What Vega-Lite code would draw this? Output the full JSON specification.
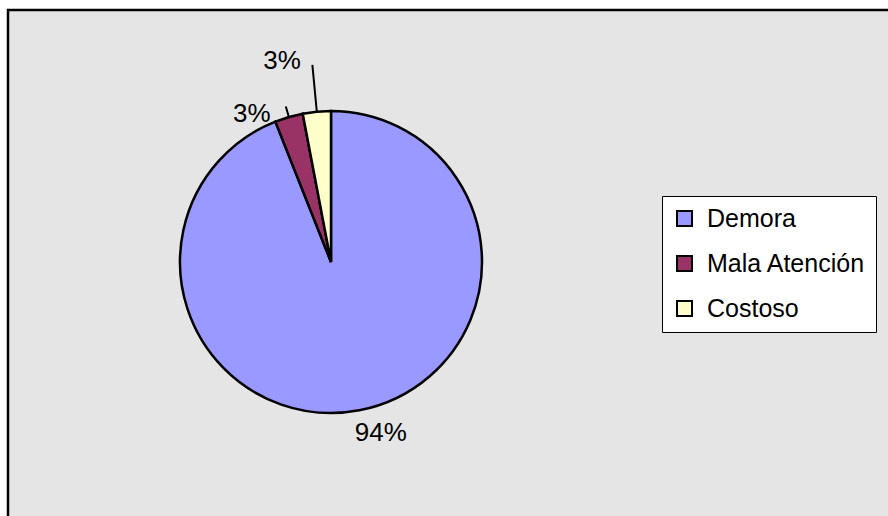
{
  "$schema": "https://vega.github.io/schema/vega-lite/v6.json",
  "width": 890,
  "height": 510,
  "autosize": {"type": "none"},
  "padding": {"left": 8, "top": 10, "right": 0, "bottom": 0},
  "background": "white",
  "config": {
    "view": {"stroke": "black", "strokeWidth": 2.5, "fill": "#e5e5e5"},
    "font": "Liberation Sans"
  },
  "data": {
    "values": [
      {"cat": "Demora", "value": 0.94, "orden": 1},
      {"cat": "Mala Atención", "value": 0.03, "orden": 2},
      {"cat": "Costoso", "value": 0.03, "orden": 3}
    ]
  },
  "encoding": {
    "theta": {"field": "value", "type": "quantitative", "stack": true},
    "order": {"field": "orden", "type": "quantitative"},
    "x": {"value": 323},
    "y": {"value": 252}
  },
  "layer": [
    {
      "mark": {"type": "arc", "outerRadius": 151, "stroke": "black", "strokeWidth": 2.5},
      "encoding": {
        "color": {
          "field": "cat",
          "type": "nominal",
          "scale": {"domain": ["Demora", "Mala Atención", "Costoso"], "range": ["#9999FF", "#993366", "#FFFFCC"]},
          "legend": {
            "title": null,
            "orient": "none",
            "legendX": 654,
            "legendY": 186,
            "symbolType": "square",
            "symbolSize": 225,
            "symbolStrokeColor": "black",
            "symbolStrokeWidth": 2,
            "labelFont": "Liberation Sans",
            "labelFontSize": 25,
            "labelColor": "black",
            "labelOffset": 10,
            "rowPadding": 19,
            "padding": 10,
            "strokeColor": "black",
            "fillColor": "white"
          }
        }
      }
    },
    {
      "mark": {"type": "arc", "radius": 151, "radius2": 198, "padAngle": 1.5, "fill": null, "strokeWidth": 2},
      "encoding": {
        "stroke": {"condition": {"test": "datum.cat === 'Costoso'", "value": "black"}, "value": null}
      }
    },
    {
      "mark": {"type": "arc", "radius": 151, "radius2": 162, "padAngle": 1.5, "fill": null, "strokeWidth": 2},
      "encoding": {
        "stroke": {"condition": {"test": "datum.cat === 'Mala Atención'", "value": "black"}, "value": null}
      }
    },
    {
      "mark": {
        "type": "text",
        "radius": 180,
        "font": "Liberation Sans",
        "fontSize": 26,
        "fill": "black",
        "dx": {"expr": "datum.cat === 'Demora' ? 16 : datum.cat === 'Costoso' ? -32 : -29"},
        "dy": {"expr": "datum.cat === 'Demora' ? -6 : datum.cat === 'Costoso' ? -22 : 25"}
      },
      "encoding": {
        "text": {"field": "value", "type": "quantitative", "format": ".0%"}
      }
    }
  ]
}
